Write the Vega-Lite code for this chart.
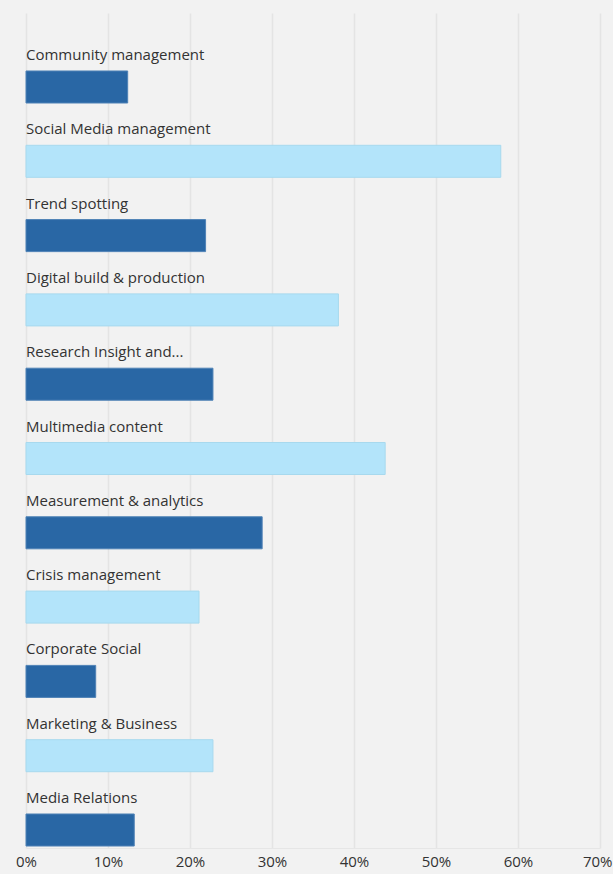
{
  "$schema": "https://vega.github.io/schema/vega-lite/v6.json",
  "width": 574,
  "height": 835,
  "autosize": {"type": "none"},
  "padding": {"left": 26, "top": 13, "right": 13, "bottom": 26},
  "background": "#f2f2f2",
  "config": {
    "view": {"stroke": null},
    "font": "Open Sans"
  },
  "data": {
    "values": [
      {"skill": "Community management", "pct": 12.4, "group": "A"},
      {"skill": "Social Media management", "pct": 57.9, "group": "B"},
      {"skill": "Trend spotting", "pct": 21.9, "group": "A"},
      {"skill": "Digital build & production", "pct": 38.1, "group": "B"},
      {"skill": "Research Insight and...", "pct": 22.8, "group": "A"},
      {"skill": "Multimedia content", "pct": 43.8, "group": "B"},
      {"skill": "Measurement & analytics", "pct": 28.8, "group": "A"},
      {"skill": "Crisis management", "pct": 21.1, "group": "B"},
      {"skill": "Corporate Social", "pct": 8.5, "group": "A"},
      {"skill": "Marketing & Business", "pct": 22.8, "group": "B"},
      {"skill": "Media Relations", "pct": 13.2, "group": "A"}
    ]
  },
  "encoding": {
    "y": {
      "field": "skill",
      "type": "nominal",
      "sort": null,
      "axis": null,
      "scale": {"paddingInner": 0.569, "paddingOuter": 0.4035, "align": 0.967}
    }
  },
  "layer": [
    {
      "mark": {"type": "bar", "strokeWidth": 1, "cornerRadius": 0},
      "encoding": {
        "x": {
          "field": "pct",
          "type": "quantitative",
          "scale": {"domain": [0, 70], "nice": false},
          "axis": {
            "values": [0, 10, 20, 30, 40, 50, 60, 70],
            "labelExpr": "datum.value + '%'",
            "title": null,
            "ticks": false,
            "domain": true,
            "domainColor": "#e6e6e6",
            "grid": true,
            "gridColor": "#e4e4e4",
            "gridWidth": 1.5,
            "labelFontSize": 15,
            "labelColor": "#333333",
            "labelPadding": 6,
            "labelFlush": false,
            "labelAlign": {"condition": {"test": "datum.value === 70", "value": "right"}, "value": "center"},
            "labelOffset": {"condition": {"test": "datum.value === 70", "value": 12}, "value": 0}
          }
        },
        "color": {
          "field": "group",
          "type": "nominal",
          "scale": {"domain": ["A", "B"], "range": ["#2967a5", "#b3e4fa"]},
          "legend": null
        },
        "stroke": {
          "field": "group",
          "type": "nominal",
          "scale": {"domain": ["A", "B"], "range": ["#4f82b6", "#a7d9ee"]},
          "legend": null
        }
      }
    },
    {
      "mark": {"type": "text", "align": "left", "baseline": "alphabetic", "dy": -27, "fontSize": 15, "color": "#333333"},
      "encoding": {
        "x": {"datum": 0, "type": "quantitative"},
        "text": {"field": "skill"}
      }
    }
  ]
}
